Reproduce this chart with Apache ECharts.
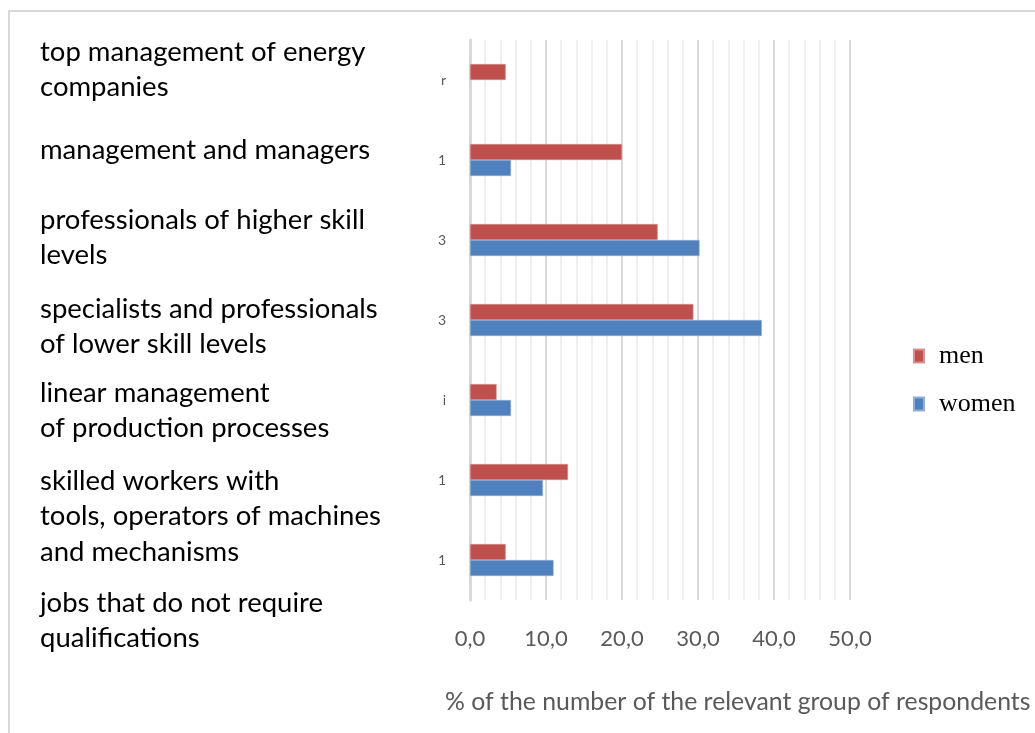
<!DOCTYPE html>
<html>
<head>
<meta charset="utf-8">
<script src="https://cdn.jsdelivr.net/npm/echarts@6/dist/echarts.min.js"></script>
<style>
html,body{margin:0;padding:0;background:#fff;}
#chart{width:1035px;height:733px;}
</style>
</head>
<body>
<div id="chart"></div>
<script>
// ---- data ----
var categories = [
  'top management of energy\ncompanies',
  'management and managers',
  'professionals of higher skill\nlevels',
  'specialists and professionals\nof lower skill levels',
  'linear management\nof production processes',
  'skilled workers with\ntools, operators of machines\nand mechanisms',
  'jobs that do not require\nqualifications'
];
var menValues   = [4.7, 20.0, 24.7, 29.4, 3.5, 12.9, 4.7];
var womenValues = [null, 5.4, 30.2, 38.4, 5.4, 9.6, 11.0];
var tickLabels  = ['0,0', '10,0', '20,0', '30,0', '40,0', '50,0'];
var clippedAxisLabels = ['r', '1', '3', '3', 'i', '1', '1'];
var seriesNames = ['men', 'women'];
var axisTitle = '% of the number of the relevant group of respondents';

// ---- layout (positions of the side text block) ----
var textFirstLineCenters = [52, 150, 220, 309, 393, 481, 603];
var lineH = 35.5;

var chart = echarts.init(document.getElementById('chart'));

var graphics = [{
  type: 'rect',
  shape: { x: 9, y: 11, width: 1100, height: 800 },
  style: { fill: 'none', stroke: '#d9d9d9', lineWidth: 2 },
  silent: true, z: -10
}];
categories.forEach(function (c, i) {
  graphics.push({
    type: 'text',
    left: 40,
    top: textFirstLineCenters[i] - lineH / 2,
    style: {
      text: c,
      font: '27.5px Lato',
      fill: '#000',
      lineHeight: lineH
    }
  });
});
graphics.push({
  type: 'text',
  left: 445,
  top: 690,
  style: { text: axisTitle, font: '24.8px Lato', fill: '#595959' }
});

var option = {
  animation: false,
  backgroundColor: '#fff',
  grid: { left: 470, top: 40, width: 380, height: 560, containLabel: false },
  legend: {
    orient: 'vertical',
    left: 908,
    top: 338,
    itemWidth: 10,
    itemHeight: 13,
    itemGap: 22,
    icon: 'rect',
    data: seriesNames,
    textStyle: { fontFamily: 'Liberation Serif', fontSize: 26, color: '#000', padding: [0, 0, 0, 10] }
  },
  xAxis: {
    type: 'value',
    min: 0, max: 50, interval: 10,
    axisLine: { show: false },
    axisTick: { show: false },
    axisLabel: {
      margin: 28,
      color: '#595959',
      fontFamily: 'Lato',
      fontSize: 22,
      formatter: function (v) { return tickLabels[Math.round(v / 10)]; }
    },
    splitLine: { show: true, lineStyle: { color: '#d9d9d9', width: 2 } },
    minorTick: { show: false, splitNumber: 5 },
    minorSplitLine: { show: true, lineStyle: { color: '#efefef', width: 2 } }
  },
  yAxis: {
    type: 'category',
    inverse: true,
    data: categories,
    axisLine: { show: true, lineStyle: { color: '#d9d9d9', width: 3 } },
    axisTick: { show: false },
    axisLabel: {
      margin: 24,
      color: '#595959',
      fontFamily: 'Lato',
      fontSize: 14,
      formatter: function (v, i) { return clippedAxisLabels[i]; }
    }
  },
  series: [
    {
      name: seriesNames[0], type: 'bar', data: menValues,
      barGap: '0%', barCategoryGap: '60%',
      itemStyle: { color: '#C0504D', borderColor: '#d9908e', borderWidth: 0.6 }
    },
    {
      name: seriesNames[1], type: 'bar', data: womenValues,
      barGap: '0%', barCategoryGap: '60%',
      itemStyle: { color: '#4F81BD', borderColor: '#8eb0d8', borderWidth: 0.6 }
    }
  ],
  graphic: graphics
};
chart.setOption(option);
</script>
</body>
</html>
